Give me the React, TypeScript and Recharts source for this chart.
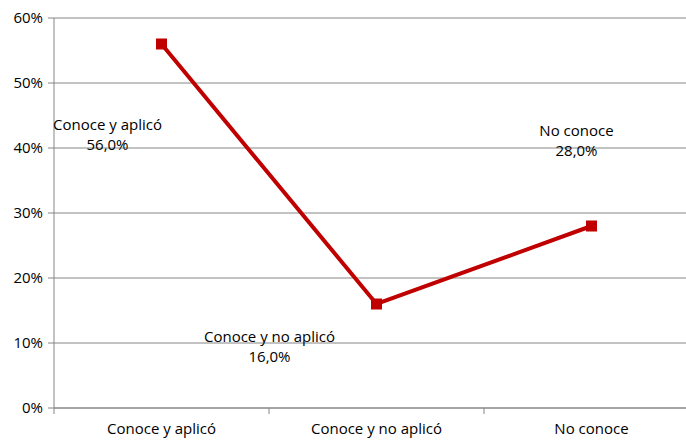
import React from "react";
import { LineChart, Line, XAxis, YAxis, CartesianGrid, LabelList } from "recharts";

const categories = ["Conoce y aplicó", "Conoce y no aplicó", "No conoce"];
const values = [0.56, 0.16, 0.28];
const yTicks = [0, 0.1, 0.2, 0.3, 0.4, 0.5, 0.6];

const data = categories.map((c, i) => ({ name: c, value: values[i] }));

const FONT = "'Open Sans', sans-serif";
const FS = 15;
const CHART_W = 710;
const CHART_H = 441;
const MARGIN = { top: 18, right: 11, bottom: 8, left: 0 };
const Y_W = 54;
const BAND = (CHART_W - MARGIN.left - MARGIN.right - Y_W) / categories.length;
const GRAY = "#868686";
const RED = "#C00000";

const labelOffsets = [
  { dx: -54, dy: 86 },
  { dx: -107, dy: 38 },
  { dx: -15, dy: -90 },
];

const pct = (v: number) => `${Math.round(v * 100)}%`;
const pct1 = (v: number) => `${(v * 100).toFixed(1).replace(".", ",")}%`;

const XTick = (props: any) => {
  const { x, y, payload } = props;
  return (
    <g>
      <line x1={x - BAND / 2} x2={x - BAND / 2} y1={y - 8} y2={y - 2} stroke={GRAY} />
      <text x={x} y={y + 18} textAnchor="middle" fontSize={FS} fontFamily={FONT} fill="#000">
        {payload.value}
      </text>
    </g>
  );
};

const PointLabel = (props: any) => {
  const { x, y, index } = props;
  const o = labelOffsets[index];
  const cx = x + o.dx;
  const cy = y + o.dy;
  return (
    <text textAnchor="middle" fontSize={FS} fontFamily={FONT} fill="#000">
      <tspan x={cx} y={cy}>{categories[index]}</tspan>
      <tspan x={cx} y={cy + 20}>{pct1(values[index])}</tspan>
    </text>
  );
};

const Square = (props: any) => {
  const { cx, cy } = props;
  return <rect x={cx - 5.5} y={cy - 5.5} width={11} height={11} fill={RED} />;
};

export default function App() {
  return (
    <div style={{ position: "absolute", left: 0, top: 0, width: 686, height: 441, overflow: "hidden", background: "#fff" }}>
      <LineChart width={CHART_W} height={CHART_H} data={data} margin={MARGIN}>
        <CartesianGrid horizontal vertical={false} stroke={GRAY} strokeDasharray="" />
        <XAxis
          dataKey="name"
          scale="band"
          axisLine={{ stroke: GRAY }}
          tickLine={false}
          tick={<XTick />}
          height={25}
          interval={0}
        />
        <YAxis
          domain={[0, 0.6]}
          ticks={yTicks}
          tickFormatter={pct}
          width={Y_W}
          axisLine={{ stroke: GRAY }}
          tickLine={{ stroke: GRAY }}
          tickSize={6}
          tickMargin={5}
          tick={{ fontSize: FS, fontFamily: FONT, fill: "#000" }}
        />
        <Line
          dataKey="value"
          stroke={RED}
          strokeWidth={4}
          dot={<Square />}
          activeDot={false}
          isAnimationActive={false}
        >
          <LabelList dataKey="value" content={<PointLabel />} />
        </Line>
      </LineChart>
    </div>
  );
}
